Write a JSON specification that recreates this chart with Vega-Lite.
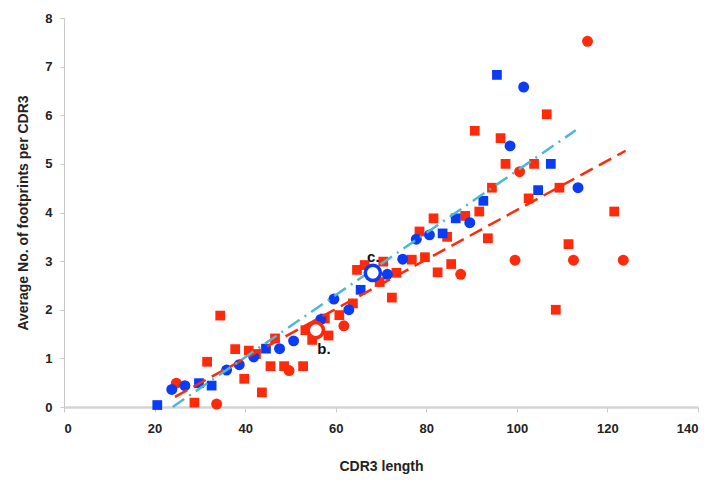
{
  "$schema": "https://vega.github.io/schema/vega-lite/v6.json",
  "width": 634,
  "height": 389,
  "autosize": {"type": "none"},
  "padding": {"left": 64, "top": 18, "right": 20, "bottom": 75},
  "background": "white",
  "config": {
    "view": {"stroke": null},
    "font": "Liberation Sans",
    "axis": {"grid": false, "labelFont": "Liberation Sans", "titleFont": "Liberation Sans", "labelFontWeight": "bold", "titleFontWeight": "bold", "labelFontSize": 13, "titleFontSize": 14, "labelColor": "#222222", "titleColor": "#222222"}
  },
  "datasets": {
    "points": [
      {"x": 115.6, "y": 7.52, "series": "red", "shape": "circle"},
      {"x": 106.6, "y": 6.02, "series": "red", "shape": "square"},
      {"x": 90.7, "y": 5.68, "series": "red", "shape": "square"},
      {"x": 96.4, "y": 5.53, "series": "red", "shape": "square"},
      {"x": 97.5, "y": 5.0, "series": "red", "shape": "square"},
      {"x": 103.8, "y": 5.0, "series": "red", "shape": "square"},
      {"x": 100.6, "y": 4.84, "series": "red", "shape": "circle"},
      {"x": 94.5, "y": 4.51, "series": "red", "shape": "square"},
      {"x": 102.6, "y": 4.29, "series": "red", "shape": "square"},
      {"x": 109.4, "y": 4.51, "series": "red", "shape": "square"},
      {"x": 121.5, "y": 4.02, "series": "red", "shape": "square"},
      {"x": 91.7, "y": 4.02, "series": "red", "shape": "square"},
      {"x": 81.6, "y": 3.88, "series": "red", "shape": "square"},
      {"x": 88.6, "y": 3.93, "series": "red", "shape": "square"},
      {"x": 78.5, "y": 3.61, "series": "red", "shape": "square"},
      {"x": 84.6, "y": 3.5, "series": "red", "shape": "square"},
      {"x": 93.6, "y": 3.47, "series": "red", "shape": "square"},
      {"x": 111.4, "y": 3.35, "series": "red", "shape": "square"},
      {"x": 99.6, "y": 3.02, "series": "red", "shape": "circle"},
      {"x": 112.5, "y": 3.02, "series": "red", "shape": "circle"},
      {"x": 123.5, "y": 3.02, "series": "red", "shape": "circle"},
      {"x": 76.8, "y": 3.03, "series": "red", "shape": "square"},
      {"x": 79.7, "y": 3.08, "series": "red", "shape": "square"},
      {"x": 85.5, "y": 2.94, "series": "red", "shape": "square"},
      {"x": 82.5, "y": 2.77, "series": "red", "shape": "square"},
      {"x": 87.6, "y": 2.73, "series": "red", "shape": "circle"},
      {"x": 70.5, "y": 2.99, "series": "red", "shape": "square"},
      {"x": 73.4, "y": 2.76, "series": "red", "shape": "square"},
      {"x": 64.7, "y": 2.82, "series": "red", "shape": "square"},
      {"x": 66.4, "y": 2.92, "series": "red", "shape": "square"},
      {"x": 69.7, "y": 2.57, "series": "red", "shape": "square"},
      {"x": 72.4, "y": 2.25, "series": "red", "shape": "square"},
      {"x": 108.6, "y": 2.0, "series": "red", "shape": "square"},
      {"x": 63.8, "y": 2.13, "series": "red", "shape": "square"},
      {"x": 60.8, "y": 1.89, "series": "red", "shape": "square"},
      {"x": 61.8, "y": 1.67, "series": "red", "shape": "circle"},
      {"x": 57.6, "y": 1.82, "series": "red", "shape": "square"},
      {"x": 58.4, "y": 1.47, "series": "red", "shape": "square"},
      {"x": 54.8, "y": 1.38, "series": "red", "shape": "square"},
      {"x": 53.3, "y": 1.58, "series": "red", "shape": "square"},
      {"x": 46.6, "y": 1.41, "series": "red", "shape": "square"},
      {"x": 37.8, "y": 1.19, "series": "red", "shape": "square"},
      {"x": 40.8, "y": 1.16, "series": "red", "shape": "square"},
      {"x": 42.4, "y": 1.09, "series": "red", "shape": "square"},
      {"x": 34.5, "y": 1.88, "series": "red", "shape": "square"},
      {"x": 31.6, "y": 0.93, "series": "red", "shape": "square"},
      {"x": 45.6, "y": 0.84, "series": "red", "shape": "square"},
      {"x": 48.6, "y": 0.84, "series": "red", "shape": "square"},
      {"x": 49.7, "y": 0.75, "series": "red", "shape": "circle"},
      {"x": 52.8, "y": 0.84, "series": "red", "shape": "square"},
      {"x": 39.8, "y": 0.58, "series": "red", "shape": "square"},
      {"x": 43.7, "y": 0.3, "series": "red", "shape": "square"},
      {"x": 24.8, "y": 0.49, "series": "red", "shape": "circle"},
      {"x": 28.8, "y": 0.09, "series": "red", "shape": "square"},
      {"x": 33.7, "y": 0.06, "series": "red", "shape": "circle"},
      {"x": 95.6, "y": 6.83, "series": "blue", "shape": "square"},
      {"x": 101.5, "y": 6.58, "series": "blue", "shape": "circle"},
      {"x": 98.5, "y": 5.37, "series": "blue", "shape": "circle"},
      {"x": 107.5, "y": 5.0, "series": "blue", "shape": "square"},
      {"x": 104.7, "y": 4.46, "series": "blue", "shape": "square"},
      {"x": 113.5, "y": 4.51, "series": "blue", "shape": "circle"},
      {"x": 92.6, "y": 4.24, "series": "blue", "shape": "square"},
      {"x": 86.5, "y": 3.88, "series": "blue", "shape": "square"},
      {"x": 89.6, "y": 3.79, "series": "blue", "shape": "circle"},
      {"x": 80.7, "y": 3.54, "series": "blue", "shape": "circle"},
      {"x": 83.6, "y": 3.57, "series": "blue", "shape": "square"},
      {"x": 77.8, "y": 3.45, "series": "blue", "shape": "circle"},
      {"x": 74.8, "y": 3.04, "series": "blue", "shape": "circle"},
      {"x": 71.4, "y": 2.73, "series": "blue", "shape": "circle"},
      {"x": 65.5, "y": 2.41, "series": "blue", "shape": "square"},
      {"x": 59.6, "y": 2.22, "series": "blue", "shape": "circle"},
      {"x": 62.9, "y": 2.0, "series": "blue", "shape": "circle"},
      {"x": 56.7, "y": 1.8, "series": "blue", "shape": "circle"},
      {"x": 50.7, "y": 1.36, "series": "blue", "shape": "circle"},
      {"x": 47.6, "y": 1.2, "series": "blue", "shape": "circle"},
      {"x": 44.6, "y": 1.2, "series": "blue", "shape": "square"},
      {"x": 41.9, "y": 1.03, "series": "blue", "shape": "circle"},
      {"x": 38.7, "y": 0.87, "series": "blue", "shape": "circle"},
      {"x": 35.9, "y": 0.76, "series": "blue", "shape": "circle"},
      {"x": 32.6, "y": 0.44, "series": "blue", "shape": "square"},
      {"x": 29.8, "y": 0.49, "series": "blue", "shape": "square"},
      {"x": 26.7, "y": 0.44, "series": "blue", "shape": "circle"},
      {"x": 23.8, "y": 0.36, "series": "blue", "shape": "circle"},
      {"x": 20.6, "y": 0.04, "series": "blue", "shape": "square"}
    ],
    "redTrend": [{"x": 24.5, "y": 0.21}, {"x": 124, "y": 5.27}],
    "blueTrend": [{"x": 24.0, "y": 0.0}, {"x": 113, "y": 5.69}],
    "hollow": [
      {"x": 55.6, "y": 1.58, "series": "red"},
      {"x": 68.2, "y": 2.76, "series": "blue"}
    ],
    "labels": [
      {"x": 57.4, "y": 1.19, "text": "b."},
      {"x": 68.3, "y": 3.09, "text": "c."}
    ]
  },
  "layer": [
    {
      "data": {"name": "points"},
      "mark": {"type": "point", "filled": true, "opacity": 1},
      "encoding": {
        "x": {"field": "x", "type": "quantitative", "scale": {"domain": [0, 140], "nice": false}, "axis": {"title": "CDR3 length", "values": [0, 20, 40, 60, 80, 100, 120, 140], "domainColor": "#d4d4d4", "domainWidth": 2.5, "tickColor": "#c8c8c8", "tickSize": 5, "labelPadding": 10, "titlePadding": 24}},
        "y": {"field": "y", "type": "quantitative", "scale": {"domain": [0, 8], "nice": false}, "axis": {"title": "Average No. of footprints per CDR3", "values": [0, 1, 2, 3, 4, 5, 6, 7, 8], "domainColor": "#c8c8c8", "domainWidth": 1, "tickColor": "#c8c8c8", "tickSize": 4, "labelPadding": 8, "titlePadding": 14}},
        "color": {"field": "series", "type": "nominal", "scale": {"domain": ["red", "blue"], "range": ["#FF2A0A", "#0B3CF5"]}, "legend": null},
        "shape": {"field": "shape", "type": "nominal", "scale": {"domain": ["square", "circle"], "range": ["square", "circle"]}, "legend": null},
        "size": {"field": "shape", "type": "nominal", "scale": {"domain": ["square", "circle"], "range": [95, 120]}, "legend": null}
      }
    },
    {
      "data": {"name": "redTrend"},
      "mark": {"type": "line", "color": "#FF2A0A", "strokeWidth": 2.5, "strokeDash": [14, 7]},
      "encoding": {"x": {"field": "x", "type": "quantitative"}, "y": {"field": "y", "type": "quantitative"}}
    },
    {
      "data": {"name": "blueTrend"},
      "mark": {"type": "line", "color": "#4DB8D2", "strokeWidth": 2.5, "strokeDash": [14, 6, 2, 6]},
      "encoding": {"x": {"field": "x", "type": "quantitative"}, "y": {"field": "y", "type": "quantitative"}}
    },
    {
      "data": {"name": "hollow"},
      "mark": {"type": "point", "filled": false, "fill": "white", "fillOpacity": 1, "opacity": 1, "strokeWidth": 3.5, "size": 230, "shape": "circle"},
      "encoding": {
        "x": {"field": "x", "type": "quantitative"},
        "y": {"field": "y", "type": "quantitative"},
        "stroke": {"field": "series", "type": "nominal", "scale": {"domain": ["red", "blue"], "range": ["#FF2A0A", "#0B3CF5"]}, "legend": null}
      }
    },
    {
      "data": {"name": "labels"},
      "mark": {"type": "text", "font": "Liberation Sans", "fontWeight": "bold", "fontSize": 15, "color": "#111111", "align": "center", "baseline": "middle"},
      "encoding": {"x": {"field": "x", "type": "quantitative"}, "y": {"field": "y", "type": "quantitative"}, "text": {"field": "text"}}
    }
  ]
}
